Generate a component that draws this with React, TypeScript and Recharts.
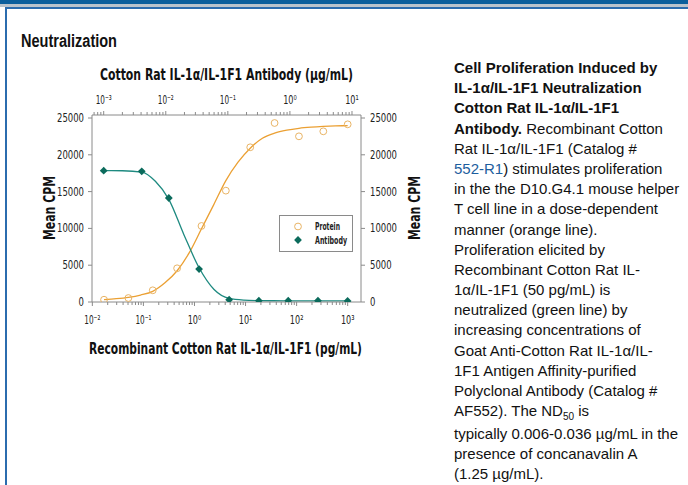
import React from 'react'
import { ComposedChart, Line, Scatter, XAxis, YAxis } from 'recharts'

// values
const proteinX = [0.01694, 0.0508, 0.1524, 0.4572, 1.372, 4.115, 12.35, 37.04, 111.1, 333.3, 1000]
const proteinCpm = [310, 540, 1590, 4580, 10330, 15130, 21020, 24320, 22510, 23190, 24140]
const antibodyX = [0.001, 0.0041, 0.0112, 0.0344, 0.105, 0.316, 0.94, 2.83, 8.5]
const antibodyCpm = [17840, 17760, 14130, 4480, 310, 180, 180, 180, 140]

// fitted curves, read at the points and half-way between them
const proteinFitX = [
  0.01694, 0.02934, 0.0508, 0.088, 0.1524, 0.264, 0.4572, 0.792, 1.372, 2.376, 4.115, 7.127,
  12.35, 21.38, 37.04, 64.15, 111.1, 192.5, 333.3, 577.4, 1000,
]
const proteinFit = [
  320, 450, 640, 950, 1450, 2600, 4250, 6700, 9950, 13200, 16500, 19000, 20900, 22250, 22950,
  23350, 23600, 23750, 23850, 23920, 23960,
]
const antibodyFitX = [
  0.001, 0.002, 0.0041, 0.0068, 0.0112, 0.0196, 0.0344, 0.06, 0.105, 0.182, 0.316, 0.545, 0.94,
  1.63, 2.83, 4.9, 8.5,
]
const antibodyFit = [
  17850, 17830, 17650, 16400, 13950, 9150, 4650, 1700, 480, 250, 190, 170, 160, 155, 150, 150, 150,
]

const bottomTicks = [-2, -1, 0, 1, 2, 3].flatMap((e) =>
  [1, 2, 3, 4, 5, 6, 7, 8, 9].map((m) => m * Math.pow(10, e)).filter((v) => v <= 1800),
)
const topTicks = [-4, -3, -2, -1, 0, 1].flatMap((e) =>
  [1, 2, 3, 4, 5, 6, 7, 8, 9].map((m) => m * Math.pow(10, e)).filter((v) => v >= 0.00066 && v <= 13.9),
)
const cpmTicks = [0, 5000, 10000, 15000, 20000, 25000]

const toPts = (xs: number[], ys: number[]) => xs.map((x, i) => ({ x, y: ys[i] }))

const ORANGE = '#EBA033'
const ORANGE_PT = '#E9B465'
const TEAL = '#1E8A80'
const TEAL_PT = '#0B6B5C'
const AXIS = '#8a8a8a'
const COND = "'DejaVu Sans Condensed', 'DejaVu Sans', sans-serif"
const ARIAL = "'Liberation Sans', Arial, sans-serif"

const SUP: Record<string, string> = {
  '-': '⁻',
  '0': '⁰',
  '1': '¹',
  '2': '²',
  '3': '³',
  '4': '⁴',
}
const supText = (e: number) =>
  String(e)
    .split('')
    .map((c) => SUP[c])
    .join('')

function LogTick(props: any) {
  const { x, y, payload, side } = props
  const v = payload.value
  const lg = Math.log10(v)
  const e = Math.round(lg)
  const major = Math.abs(lg - e) < 1e-6
  const dir = side === 'top' ? -1 : 1
  return (
    <g>
      <line x1={x} x2={x} y1={y} y2={y + dir * (major ? 4 : 3)} stroke={AXIS} strokeWidth={1} />
      {major && (
        <text
          x={x}
          y={side === 'top' ? y - 11 : y + 22}
          textAnchor="middle"
          fontFamily={COND}
          fontSize={12.5}
          fill="#222"
          textLength={e < 0 ? 16 : 13.5}
          lengthAdjust="spacingAndGlyphs"
        >
          {'10' + supText(e)}
        </text>
      )}
    </g>
  )
}

function CpmTick(props: any) {
  const { x, y, payload, side } = props
  const s = String(payload.value)
  return (
    <text
      x={x}
      y={y}
      dy={4}
      textAnchor={side === 'left' ? 'end' : 'start'}
      fontFamily={COND}
      fontSize={12}
      fill="#222"
      textLength={s.length * 5.4}
      lengthAdjust="spacingAndGlyphs"
    >
      {s}
    </text>
  )
}

function Circle(p: any) {
  return <circle cx={p.cx} cy={p.cy} r={3.4} fill="none" stroke={ORANGE_PT} strokeWidth={1} />
}

function Diamond(p: any) {
  const s = 3.9
  return (
    <path
      d={`M${p.cx},${p.cy - s}L${p.cx + s},${p.cy}L${p.cx},${p.cy + s}L${p.cx - s},${p.cy}Z`}
      fill={TEAL_PT}
    />
  )
}

const textLines: React.ReactNode[] = [
  <b>Cell Proliferation Induced by</b>,
  <b>IL-1α/IL-1F1 Neutralization</b>,
  <b>Cotton Rat IL-1α/IL-1F1</b>,
  <>
    <b>Antibody.</b> Recombinant Cotton
  </>,
  'Rat IL-1α/IL-1F1 (Catalog #',
  <>
    <span style={{ color: '#1d5e9e' }}>552-R1</span>) stimulates proliferation
  </>,
  'in the the D10.G4.1 mouse helper',
  'T cell line in a dose-dependent',
  'manner (orange line).',
  'Proliferation elicited by',
  'Recombinant Cotton Rat IL-',
  '1α/IL-1F1 (50 pg/mL) is',
  'neutralized (green line) by',
  'increasing concentrations of',
  'Goat Anti-Cotton Rat IL-1α/IL-',
  '1F1 Antigen Affinity-purified',
  'Polyclonal Antibody (Catalog #',
  <>
    AF552). The ND<sub style={{ fontSize: 10 }}>50</sub> is
  </>,
  'typically 0.006-0.036 µg/mL in the',
  'presence of concanavalin A',
  '(1.25 µg/mL).',
]

export default function App() {
  return (
    <div
      style={{
        position: 'absolute',
        left: 0,
        top: 0,
        width: 688,
        height: 485,
        overflow: 'hidden',
        background: '#fff',
      }}
    >
      {/* page frame */}
      <div style={{ position: 'absolute', left: 0, top: 0, width: 688, height: 4, background: '#0a5e9c' }} />
      <div style={{ position: 'absolute', left: 0, top: 4, width: 688, height: 3, background: '#b9c3cc' }} />
      <div style={{ position: 'absolute', left: 5, top: 7, width: 683, height: 2, background: '#2b6cae' }} />
      <div style={{ position: 'absolute', left: 5, top: 7, width: 2, height: 478, background: '#2b6cae' }} />

      <div style={{ position: 'absolute', left: 0, top: 0 }}>
        <ComposedChart width={440} height={380} margin={{ top: 95, left: 52, right: 39, bottom: 58 }}>
          <XAxis
            xAxisId="bottom"
            dataKey="x"
            type="number"
            scale="log"
            domain={[0.00985, 1823]}
            allowDataOverflow
            ticks={bottomTicks}
            interval={0}
            height={20}
            tickSize={0}
            tickMargin={0}
            tickLine={false}
            axisLine={{ stroke: AXIS }}
            tick={<LogTick side="bottom" />}
          />
          <XAxis
            xAxisId="top"
            orientation="top"
            dataKey="x"
            type="number"
            scale="log"
            domain={[0.000648, 13.97]}
            allowDataOverflow
            ticks={topTicks}
            interval={0}
            height={20}
            tickSize={0}
            tickMargin={0}
            tickLine={false}
            axisLine={{ stroke: AXIS }}
            tick={<LogTick side="top" />}
          />
          <YAxis
            yAxisId="left"
            dataKey="y"
            type="number"
            domain={[0, 25408]}
            allowDataOverflow
            ticks={cpmTicks}
            interval={0}
            width={40}
            tickSize={4}
            tickMargin={4}
            axisLine={{ stroke: AXIS }}
            tickLine={{ stroke: AXIS }}
            tick={<CpmTick side="left" />}
          />
          <YAxis
            yAxisId="right"
            orientation="right"
            dataKey="y"
            type="number"
            domain={[0, 25408]}
            allowDataOverflow
            ticks={cpmTicks}
            interval={0}
            width={40}
            tickSize={4}
            tickMargin={5}
            axisLine={{ stroke: AXIS }}
            tickLine={{ stroke: AXIS }}
            tick={<CpmTick side="right" />}
          />
          <Line
            data={toPts(proteinFitX, proteinFit)}
            xAxisId="bottom"
            yAxisId="left"
            dataKey="y"
            type="monotone"
            stroke={ORANGE}
            strokeWidth={1.3}
            dot={false}
            activeDot={false}
            isAnimationActive={false}
          />
          <Line
            data={toPts(antibodyFitX, antibodyFit)}
            xAxisId="top"
            yAxisId="left"
            dataKey="y"
            type="monotone"
            stroke={TEAL}
            strokeWidth={1.3}
            dot={false}
            activeDot={false}
            isAnimationActive={false}
          />
          <Scatter
            data={toPts(proteinX, proteinCpm)}
            xAxisId="bottom"
            yAxisId="left"
            dataKey="y"
            shape={<Circle />}
            isAnimationActive={false}
          />
          <Scatter
            data={toPts(antibodyX, antibodyCpm)}
            xAxisId="top"
            yAxisId="left"
            dataKey="y"
            shape={<Diamond />}
            isAnimationActive={false}
          />
        </ComposedChart>
      </div>

      {/* titles and legend */}
      <svg width={688} height={485} style={{ position: 'absolute', left: 0, top: 0, pointerEvents: 'none' }}>
        <text
          x={21}
          y={46.5}
          fontFamily={ARIAL}
          fontWeight="bold"
          fontSize={17.5}
          fill="#111"
          textLength={96}
          lengthAdjust="spacingAndGlyphs"
        >
          Neutralization
        </text>
        <text
          x={226.5}
          y={80}
          textAnchor="middle"
          fontFamily={COND}
          fontWeight="bold"
          fontSize={16}
          fill="#111"
          textLength={253}
          lengthAdjust="spacingAndGlyphs"
        >
          Cotton Rat IL-1α/IL-1F1 Antibody (µg/mL)
        </text>
        <text
          x={225.5}
          y={354}
          textAnchor="middle"
          fontFamily={COND}
          fontWeight="bold"
          fontSize={16}
          fill="#111"
          textLength={273}
          lengthAdjust="spacingAndGlyphs"
        >
          Recombinant Cotton Rat IL-1α/IL-1F1 (pg/mL)
        </text>
        {[49.5, 414].map((cx) => (
          <text
            key={cx}
            transform={`translate(${cx + 5.5},208) rotate(-90)`}
            textAnchor="middle"
            fontFamily={COND}
            fontWeight="bold"
            fontSize={16}
            fill="#111"
            textLength={64}
            lengthAdjust="spacingAndGlyphs"
          >
            Mean CPM
          </text>
        ))}
        <rect x={279.5} y={215.5} width={73} height={36} fill="#fff" stroke={AXIS} />
        <Circle cx={298} cy={226.5} />
        <Diamond cx={298} cy={240} />
        <text
          x={315}
          y={230}
          fontFamily={COND}
          fontWeight="bold"
          fontSize={10}
          fill="#222"
          textLength={25}
          lengthAdjust="spacingAndGlyphs"
        >
          Protein
        </text>
        <text
          x={315}
          y={243.5}
          fontFamily={COND}
          fontWeight="bold"
          fontSize={10}
          fill="#222"
          textLength={32}
          lengthAdjust="spacingAndGlyphs"
        >
          Antibody
        </text>
      </svg>

      {/* caption */}
      <div
        style={{
          position: 'absolute',
          left: 454,
          top: 58,
          width: 234,
          fontFamily: ARIAL,
          fontSize: 15,
          color: '#111',
          whiteSpace: 'nowrap',
        }}
      >
        {textLines.map((ln, i) => (
          <div key={i} style={{ height: i === 17 ? 22.5 : 20.2, lineHeight: '20.2px' }}>
            {ln}
          </div>
        ))}
      </div>
    </div>
  )
}
